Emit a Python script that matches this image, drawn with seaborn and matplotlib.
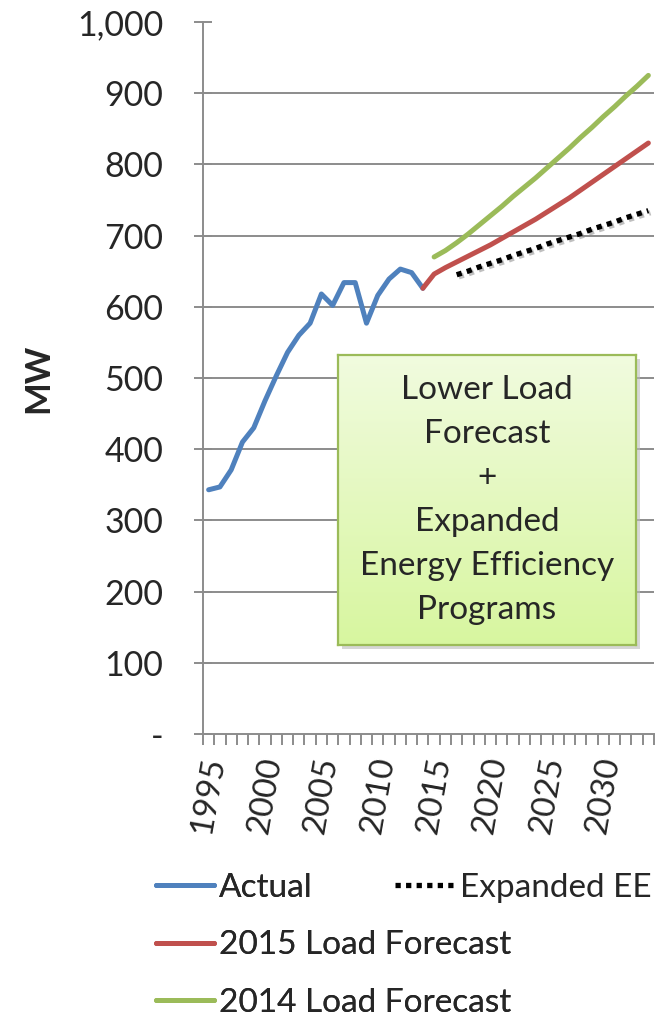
import matplotlib
matplotlib.use("Agg")
import matplotlib.pyplot as plt
import matplotlib.patheffects as pe
from matplotlib.lines import Line2D
from matplotlib.patches import Rectangle
from matplotlib.ticker import FuncFormatter, FixedLocator
import numpy as np
import pandas as pd
import seaborn as sns

# ---------------- data ----------------
actual_years = list(range(1995, 2015))
actual_mw = [343, 347, 371, 410, 430, 468, 503, 536, 560, 577,
             618, 602, 634, 634, 577, 616, 639, 653, 648, 626]

lf2015_years = list(range(2014, 2035))
lf2015_mw = [626, 646, 655, 663, 671, 679, 687, 696, 705, 714, 723,
             733, 743, 753, 764, 775, 786, 797, 808, 819, 830]

lf2014_years = list(range(2015, 2035))
lf2014_mw = [670, 679, 690, 702, 715, 728, 741, 755, 768, 781,
             795, 809, 823, 838, 852, 867, 881, 896, 910, 925]

ee_years = list(range(2017, 2035))
ee_mw = [645, 650, 656, 661, 666, 672, 677, 682, 688, 693,
         698, 703, 709, 714, 719, 725, 730, 735]

x_labels = [1995, 2000, 2005, 2010, 2015, 2020, 2025, 2030]
y_ticks = [0, 100, 200, 300, 400, 500, 600, 700, 800, 900, 1000]

series_names = ["Actual", "Expanded EE", "2015 Load Forecast", "2014 Load Forecast"]
box_text = "Lower Load\nForecast\n+\nExpanded\nEnergy Efficiency\nPrograms"

# ---------------- style ----------------
sns.set_theme(style="white")
plt.rcParams["font.family"] = ["Lato", "DejaVu Sans"]

BLUE = "#4F81BD"
RED = "#C0504D"
GREEN = "#9BBB59"
GRID = "#8C8C8C"

W, H = 656, 1021
fig = plt.figure(figsize=(W / 100, H / 100), dpi=100)
L, R, T, B = 203, 654, 22, 734
ax = fig.add_axes([L / W, 1 - B / H, (R - L) / W, (B - T) / H])

lw = 3.6
ee_lw = 3.8
df_a = pd.DataFrame({"year": actual_years, "mw": actual_mw})
df_r = pd.DataFrame({"year": lf2015_years, "mw": lf2015_mw})
df_g = pd.DataFrame({"year": lf2014_years, "mw": lf2014_mw})
df_e = pd.DataFrame({"year": ee_years, "mw": ee_mw})

sns.lineplot(data=df_a, x="year", y="mw", ax=ax, color=BLUE, lw=lw,
             solid_capstyle="round", solid_joinstyle="round", legend=False, zorder=5)
sns.lineplot(data=df_r, x="year", y="mw", ax=ax, color=RED, lw=lw,
             solid_capstyle="round", solid_joinstyle="round", legend=False, zorder=5)
sns.lineplot(data=df_g, x="year", y="mw", ax=ax, color=GREEN, lw=lw,
             solid_capstyle="round", solid_joinstyle="round", legend=False, zorder=5)
sns.lineplot(data=df_e, x="year", y="mw", ax=ax, color="black", lw=ee_lw,
             linestyle=(0, (1, 1)), legend=False, zorder=5,
             path_effects=[pe.SimpleLineShadow(offset=(1.5, -1.5), shadow_color="gray", alpha=0.5),
                           pe.Normal()])

ax.set_xlim(1994.5, 2034.5)
ax.set_ylim(0, 1000)

# gridlines (no line at the top)
for v in y_ticks[1:-1]:
    ax.axhline(v, color=GRID, lw=1.4, zorder=1)

for s in ["top", "right"]:
    ax.spines[s].set_visible(False)
for s in ["left", "bottom"]:
    ax.spines[s].set_color(GRID)
    ax.spines[s].set_linewidth(1.4)

ax.set_yticks(y_ticks)
ax.yaxis.set_major_formatter(FuncFormatter(lambda v, p: "-" if v == 0 else f"{int(v):,}"))
ax.tick_params(axis="y", which="major", direction="inout", length=13, width=1.4,
               color=GRID, pad=22, labelsize=24.5, left=True)

ax.set_xticks(x_labels)
ax.set_xticklabels([str(y) for y in x_labels], rotation=80, ha="center", va="top")
ax.tick_params(axis="x", which="major", length=0, pad=15, labelsize=24, bottom=True)
ax.xaxis.set_minor_locator(FixedLocator(np.arange(1994.5, 2035, 1.0)))
ax.tick_params(axis="x", which="minor", direction="out", length=8, width=1.4,
               color=GRID, bottom=True)

ax.set_xlabel("")
ax.set_ylabel("")
fig.text(38 / W, 1 - 378 / H, "MW", rotation=90, ha="center", va="center",
         fontsize=25, fontweight="bold")

# ---------------- text box with gradient ----------------
bx0, bx1, by0, by1 = 338, 636, 355, 645
shadow = Rectangle(((bx0 + 4) / W, 1 - (by1 + 4) / H), (bx1 - bx0) / W, (by1 - by0) / H,
                   transform=fig.transFigure, facecolor="#BBBBBB", alpha=0.6,
                   edgecolor="none", zorder=8)
fig.patches.append(shadow)
bax = fig.add_axes([bx0 / W, 1 - by1 / H, (bx1 - bx0) / W, (by1 - by0) / H], zorder=10)
top_c = np.array([0.945, 0.985, 0.875])
bot_c = np.array([0.845, 0.965, 0.625])
t = np.linspace(0, 1, 256)[:, None]
grad = (top_c[None, :] * (1 - t) + bot_c[None, :] * t)[:, None, :]
bax.imshow(grad, aspect="auto", extent=[0, 1, 0, 1], origin="upper")
bax.set_xlim(0, 1)
bax.set_ylim(0, 1)
bax.set_xticks([])
bax.set_yticks([])
for s in bax.spines.values():
    s.set_color(GREEN)
    s.set_linewidth(1.6)
    s.set_visible(True)
bax.text(0.5, 0.5, box_text, ha="center", va="center", fontsize=24,
         linespacing=1.58, transform=bax.transAxes)

# ---------------- legends ----------------
h_actual = Line2D([], [], color=BLUE, lw=lw, solid_capstyle="round")
h_r = Line2D([], [], color=RED, lw=lw, solid_capstyle="round")
h_g = Line2D([], [], color=GREEN, lw=lw, solid_capstyle="round")
h_e = Line2D([], [], color="black", lw=ee_lw, linestyle=(0, (1, 1)))

leg1 = fig.legend([h_actual, h_r, h_g], [series_names[0], series_names[2], series_names[3]],
                  loc="upper left", bbox_to_anchor=(156 / W, 1 - 873 / H),
                  frameon=False, fontsize=24, handlelength=1.75, handletextpad=0.15,
                  labelspacing=0.82, borderpad=0, borderaxespad=0)
leg2 = fig.legend([h_e], [series_names[1]],
                  loc="upper left", bbox_to_anchor=(395 / W, 1 - 873 / H),
                  frameon=False, fontsize=24, handlelength=1.75, handletextpad=0.2,
                  borderpad=0, borderaxespad=0)
fig.add_artist(leg1)

fig.savefig("out.png", dpi=100)
